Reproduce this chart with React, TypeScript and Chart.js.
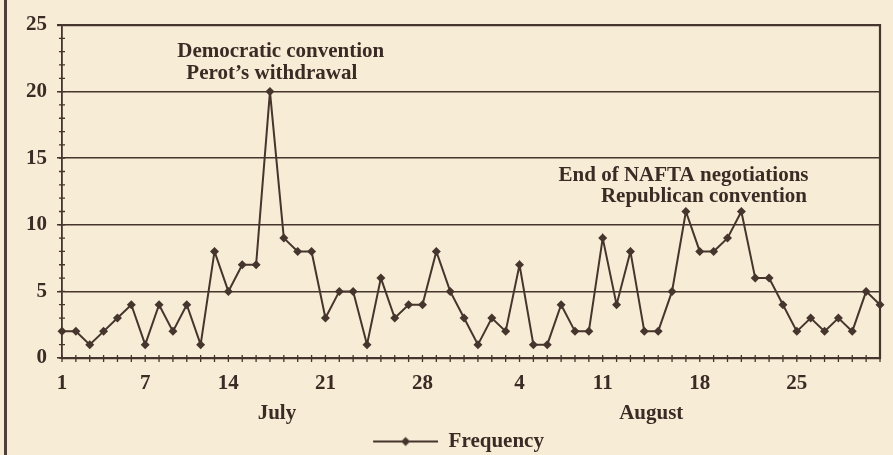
import React, { useEffect, useRef } from "react";
import { Chart, registerables } from "chart.js";

Chart.register(...registerables);

// ---- data ----
const frequency = [
  2, 2, 1, 2, 3, 4, 1, 4, 2, 4, 1, 8, 5, 7, 7, 20, 9, 8,
  8, 3, 5, 5, 1, 6, 3, 4, 4, 8, 5, 3, 1, 3, 2, 7, 1, 1, 4, 2, 2,
  9, 4, 8, 2, 2, 5, 11, 8, 8, 9, 11, 6, 6, 4, 2, 3, 2, 3, 2, 5, 4,
];

const dayLabels = [
  "1", "", "", "", "", "",
  "7", "", "", "", "", "",
  "14", "", "", "", "", "", "",
  "21", "", "", "", "", "", "",
  "28", "", "", "", "", "", "",
  "4", "", "", "", "", "",
  "11", "", "", "", "", "", "",
  "18", "", "", "", "", "", "",
  "25", "", "", "", "", "", "",
];

const monthNames = ["July", "August"];
const monthCenters = [15.5, 42.5];

const yTickValues = [0, 5, 10, 15, 20, 25];

const annotationTexts = [
  "Democratic convention",
  "Perot\u2019s withdrawal",
  "End of NAFTA negotiations",
  "Republican convention",
];
const annotationX = [15.78, 15.13, 44.83, 46.3];
const annotationY = [23.0, 21.35, 13.73, 12.11];

const seriesName = "Frequency";

export default function App() {
  const ref = useRef<HTMLCanvasElement>(null);

  useEffect(() => {
    document.body.style.margin = "0";
    const canvas = ref.current!;
    const ink = "#45352d";
    const textInk = "#3a2b25";
    const family = '"Liberation Serif", "Times New Roman", serif';
    const font = { family, size: 21, weight: "bold" as const };

    // legend symbol: line with a diamond
    const legendImg = document.createElement("canvas");
    legendImg.width = 97;
    legendImg.height = 12;
    const g = legendImg.getContext("2d")!;
    g.strokeStyle = ink;
    g.lineWidth = 1.8;
    g.beginPath();
    g.moveTo(32, 6);
    g.lineTo(97, 6);
    g.stroke();
    g.fillStyle = ink;
    g.beginPath();
    g.moveTo(64.5, 1.5);
    g.lineTo(69, 6);
    g.lineTo(64.5, 10.5);
    g.lineTo(60, 6);
    g.closePath();
    g.fill();

    const decor = {
      id: "decor",
      beforeDatasetsDraw(chart: any) {
        const { ctx, chartArea: a, scales } = chart;
        const xs = scales.x;
        const ys = scales.y;
        ctx.save();
        ctx.strokeStyle = ink;
        ctx.lineWidth = 1.3;
        ctx.beginPath();
        for (let v = ys.min; v <= ys.max; v++) {
          const py = ys.getPixelForValue(v);
          ctx.moveTo(a.left - 3, py);
          ctx.lineTo(a.left + 3, py);
        }
        for (let i = 0; i < frequency.length; i++) {
          const px = xs.getPixelForValue(i);
          ctx.moveTo(px, a.bottom - 3);
          ctx.lineTo(px, a.bottom + 4);
        }
        ctx.stroke();
        ctx.lineWidth = 2.2;
        ctx.beginPath();
        ctx.moveTo(a.right, a.top - 1);
        ctx.lineTo(a.right, a.bottom + 1);
        ctx.stroke();
        ctx.restore();
      },
      afterDatasetsDraw(chart: any) {
        const { ctx, scales } = chart;
        ctx.save();
        ctx.fillStyle = textInk;
        ctx.font = `bold 21px ${family}`;
        ctx.textAlign = "center";
        ctx.textBaseline = "middle";
        annotationTexts.forEach((t, i) => {
          ctx.fillText(
            t,
            scales.x.getPixelForValue(annotationX[i]),
            scales.y.getPixelForValue(annotationY[i])
          );
        });
        ctx.restore();
      },
    };

    const chart = new Chart(canvas, {
      type: "line",
      data: {
        labels: dayLabels,
        datasets: [
          {
            label: seriesName,
            data: frequency,
            borderColor: ink,
            backgroundColor: ink,
            borderWidth: 2,
            pointStyle: "rectRot",
            pointRadius: 4.5,
            pointBackgroundColor: ink,
            pointBorderColor: ink,
            pointBorderWidth: 0,
            tension: 0,
            clip: false,
          } as any,
        ],
      },
      options: {
        animation: false,
        responsive: false,
        layout: { padding: { top: 25, right: 8, bottom: -7, left: 0 } },
        plugins: {
          tooltip: { enabled: false },
          legend: {
            position: "bottom",
            labels: {
              usePointStyle: true,
              pointStyle: legendImg as any,
              pointStyleWidth: 97,
              padding: 7,
              color: textInk,
              font,
            },
          },
        },
        scales: {
          x: {
            type: "category",
            offset: false,
            weight: 0,
            grid: { display: false, drawTicks: false },
            border: { display: true, color: ink, width: 2.2 },
            ticks: {
              autoSkip: false,
              maxRotation: 0,
              padding: 13,
              color: textInk,
              font,
            },
            afterFit: (s: any) => {
              s.height = 40;
            },
          },
          month: {
            type: "linear",
            position: "bottom",
            weight: 1,
            min: 0,
            max: frequency.length - 1,
            grid: { display: false, drawTicks: false },
            border: { display: false },
            afterBuildTicks: (axis: any) => {
              axis.ticks = monthCenters.map((v) => ({ value: v }));
            },
            ticks: {
              autoSkip: false,
              maxRotation: 0,
              padding: 3,
              color: textInk,
              font,
              callback: (_v: any, i: number) => monthNames[i],
            },
            afterFit: (s: any) => {
              s.height = 26;
            },
          },
          y: {
            min: 0,
            max: 25,
            afterBuildTicks: (axis: any) => {
              axis.ticks = yTickValues.map((v) => ({ value: v }));
            },
            grid: {
              color: ink,
              lineWidth: (c: any) => (c.tick && c.tick.value === 25 ? 2.2 : 1.5),
              drawTicks: true,
              tickLength: 5,
              tickColor: ink,
            },
            border: { display: true, color: ink, width: 1.8 },
            ticks: {
              padding: 10,
              color: textInk,
              font,
            },
            afterFit: (s: any) => {
              s.width = 62;
            },
          },
        },
      },
      plugins: [decor],
    });

    return () => chart.destroy();
  }, []);

  return (
    <div
      style={{
        position: "relative",
        width: 893,
        height: 455,
        background: "#f7ecd5",
        overflow: "hidden",
      }}
    >
      <div
        style={{
          position: "absolute",
          left: 4,
          top: 0,
          width: 3,
          height: 455,
          background: "#4f403a",
        }}
      />
      <canvas
        ref={ref}
        width={893}
        height={455}
        style={{ position: "absolute", left: 0, top: 0 }}
      />
    </div>
  );
}
